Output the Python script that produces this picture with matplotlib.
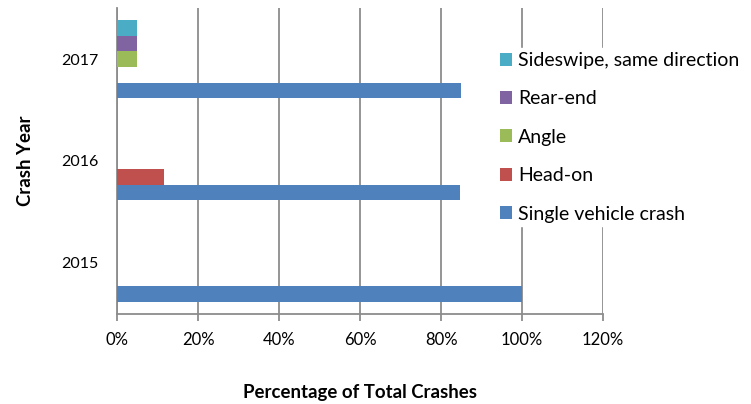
import numpy as np
import matplotlib
matplotlib.use("Agg")
import matplotlib.pyplot as plt
from matplotlib.ticker import FuncFormatter

plt.rcParams["font.family"] = ["Lato", "DejaVu Sans"]

years = ["2015", "2016", "2017"]
series = ["Single vehicle crash", "Head-on", "Angle", "Rear-end", "Sideswipe, same direction"]
colors = ["#4F81BD", "#C0504D", "#9BBB59", "#8064A2", "#4BACC6"]

single_vehicle = [1.00, 0.846, 0.85]
head_on = [0.0, 0.115, 0.0]
angle = [0.0, 0.0, 0.05]
rear_end = [0.0, 0.0, 0.05]
sideswipe = [0.0, 0.0, 0.05]
values = [single_vehicle, head_on, angle, rear_end, sideswipe]

fig = plt.figure(figsize=(7.51, 4.04), dpi=100)
ax = fig.add_axes([0.156, 0.223, 0.647, 0.757])

y = np.arange(len(years))
h = 1 / 6.5
for i, (name, vals, c) in enumerate(zip(series, values, colors)):
    ax.barh(y + (i - 2) * h, vals, height=h, color=c, label=name, zorder=3)

ax.set_xlim(0, 1.2)
ax.set_ylim(-0.5, 2.5)
ax.set_xticks(np.arange(0, 1.21, 0.2))
ax.xaxis.set_major_formatter(FuncFormatter(lambda v, p: f"{v * 100:.0f}%"))
ax.set_yticks(y)
ax.set_yticklabels(years)
ax.grid(axis="x", color="#8c8c8c", lw=1.3, zorder=0)
for s in ["top", "right"]:
    ax.spines[s].set_visible(False)
for s in ["left", "bottom"]:
    ax.spines[s].set_color("#8c8c8c")
    ax.spines[s].set_linewidth(1.3)
ax.tick_params(axis="x", length=5, color="#8c8c8c", width=1.3, labelsize=12, pad=8)
ax.tick_params(axis="y", length=0, labelsize=11.5, pad=13.5)

ax.set_xlabel("Percentage of Total Crashes", fontsize=13.4, fontweight="bold", labelpad=26)
ax.set_ylabel("Crash Year", fontsize=13.4, fontweight="bold")
ax.yaxis.set_label_coords(-0.172, 0.5)

handles, labels = ax.get_legend_handles_labels()
leg = fig.legend(handles[::-1], labels[::-1], loc="upper left", bbox_to_anchor=(0.647, 0.905),
                 frameon=True, fontsize=14, handlelength=0.65, handleheight=0.65,
                 handletextpad=0.3, labelspacing=1.1, borderpad=0.2)
leg.get_frame().set_edgecolor("white")
leg.get_frame().set_facecolor("white")
leg.get_frame().set_alpha(1)

fig.savefig("out.png", dpi=100)
